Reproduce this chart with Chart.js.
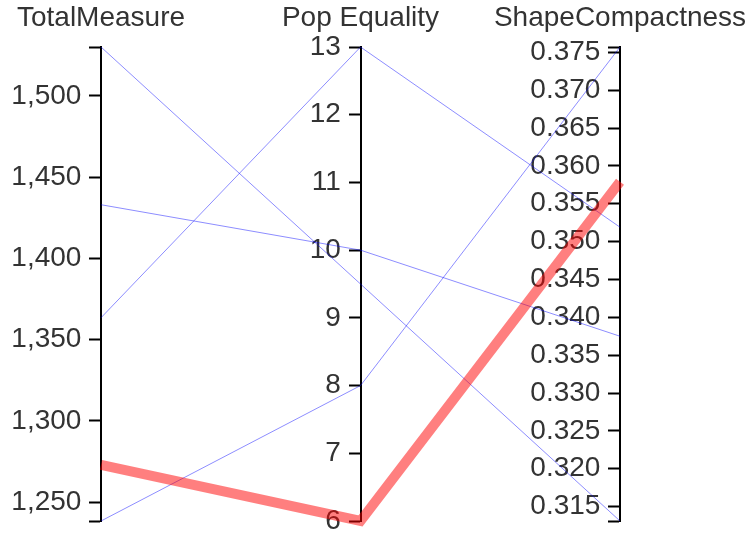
<!DOCTYPE html>
<html>
<head>
<meta charset="utf-8">
<script src="https://cdn.jsdelivr.net/npm/chart.js@4"></script>
<style>
  body { margin: 0; background: #fff; }
</style>
</head>
<body>
<canvas id="pc" width="753" height="533"></canvas>
<script>
// ---------- data ----------
const axisNames = ["TotalMeasure", "Pop Equality", "ShapeCompactness"];

const totalMeasure     = [1530, 1433, 1363.5, 1238.5, 1273];
const popEquality      = [9.5, 10, 13, 8, 6];
const shapeCompactness = [0.3131, 0.3375, 0.3519, 0.3757, 0.3579];
const highlighted      = [false, false, false, false, true];

const totalMeasureTicks     = [1250, 1300, 1350, 1400, 1450, 1500];
const popEqualityTicks      = [6, 7, 8, 9, 10, 11, 12, 13];
const shapeCompactnessTicks = [0.315, 0.32, 0.325, 0.33, 0.335, 0.34, 0.345,
                               0.35, 0.355, 0.36, 0.365, 0.37, 0.375];

// ---------- setup ----------
const columns = [totalMeasure, popEquality, shapeCompactness];
const tickSets = [totalMeasureTicks, popEqualityTicks, shapeCompactnessTicks];
const ranges = columns.map(c => ({ min: Math.min(...c), max: Math.max(...c) }));

const labelFont = { family: "'Liberation Sans', Arial, sans-serif", size: 28 };
const textColor = "#333";
const gap = "\u2002\u2009";

const formatters = [
    v => v.toLocaleString("en-US"),
    v => String(v),
    v => v.toFixed(3)
];

// scales should not push the plot area around, the layout padding does that
function noPadding(s) {
    s.paddingTop = 0;
    s.paddingBottom = 0;
    s.paddingLeft = 0;
    s.paddingRight = 0;
}

const datasets = totalMeasure.map((_, r) => ({
    data: columns.map((c, i) => ({
        x: i,
        y: (c[r] - ranges[i].min) / (ranges[i].max - ranges[i].min)
    })),
    borderColor: highlighted[r] ? "rgba(255,0,0,0.5)" : "rgba(0,0,255,0.45)",
    borderWidth: highlighted[r] ? 10 : 1,
    pointRadius: 0,
    order: highlighted[r] ? 0 : 1,
    clip: false
}));

const scales = {
    x: {
        type: "linear",
        position: "top",
        min: 0,
        max: axisNames.length - 1,
        grid: { display: false, drawTicks: false },
        border: { display: false },
        afterBuildTicks: s => { s.ticks = axisNames.map((_, i) => ({ value: i })); },
        afterFit: s => { noPadding(s); s.height = 46; },
        ticks: {
            autoSkip: false,
            maxRotation: 0,
            padding: 12,
            font: labelFont,
            color: textColor,
            callback: v => axisNames[v]
        }
    },
    y: { display: false, min: 0, max: 1 }
};

columns.forEach((c, i) => {
    const step = tickSets[i][1] - tickSets[i][0];
    scales["y" + i] = {
        type: "linear",
        axis: "y",
        position: { x: i },
        min: ranges[i].min,
        max: ranges[i].max,
        afterBuildTicks: s => {
            const vals = [ranges[i].min, ...tickSets[i], ranges[i].max];
            s.ticks = [...new Set(vals)].map(v => ({ value: v }));
        },
        afterFit: noPadding,
        grid: {
            drawOnChartArea: false,
            tickLength: 11,
            tickWidth: 2,
            tickColor: "#000"
        },
        border: { color: "#000", width: 2 },
        ticks: {
            autoSkip: false,
            font: labelFont,
            color: textColor,
            callback: v => {
                const k = (v - tickSets[i][0]) / step;
                if (Math.abs(k - Math.round(k)) > 1e-6) return "";
                return formatters[i](v) + gap;
            }
        }
    };
});

new Chart(document.getElementById("pc"), {
    type: "line",
    data: { datasets: datasets },
    options: {
        responsive: false,
        animation: false,
        layout: { padding: { top: 1, left: 101, right: 133, bottom: 12 } },
        plugins: { legend: { display: false }, tooltip: { enabled: false } },
        scales: scales
    }
});
</script>
</body>
</html>
